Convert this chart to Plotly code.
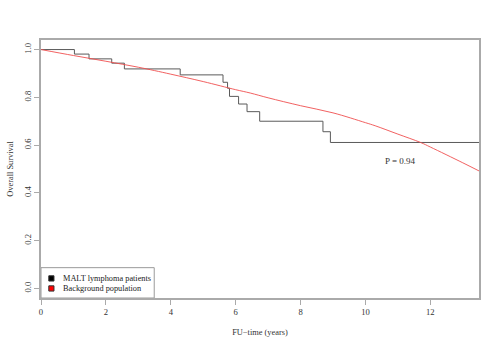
import plotly.graph_objects as go

# Kaplan-Meier steps for MALT lymphoma patients (event times, survival after event)
km_time = [0.0, 1.03, 1.48, 2.18, 2.57, 4.29, 5.61, 5.75, 5.81, 6.09, 6.35, 6.74, 8.69, 8.92, 13.5]
km_surv = [1.0, 0.981, 0.961, 0.943, 0.919, 0.894, 0.863, 0.838, 0.804, 0.772, 0.740, 0.700, 0.656, 0.611, 0.611]

# Expected survival of the background population
bg_time = [0, 1, 2, 3, 3.5, 4, 5, 6, 6.45, 7, 8, 9, 10, 10.3, 11, 11.7, 12, 13, 13.5]
bg_surv = [1.0, 0.975, 0.951, 0.926, 0.912, 0.897, 0.866, 0.832, 0.818, 0.798, 0.765, 0.735, 0.694, 0.681, 0.646, 0.611, 0.592, 0.526, 0.492]

series_names = ["MALT lymphoma patients", "Background population"]
series_colors = ["#000000", "#ff0000"]
p_label = "P = 0.94"
p_pos = (11.08, 0.532)

x_ticks = [0, 2, 4, 6, 8, 10, 12]
y_ticks = [0.0, 0.2, 0.4, 0.6, 0.8, 1.0]

font_family = "Liberation Serif, Times New Roman, serif"

fig = go.Figure()
fig.add_trace(go.Scatter(x=km_time, y=km_surv, mode="lines", line_shape="hv",
                         name=series_names[0],
                         line=dict(color="#5a5a5a", width=1), showlegend=False,
                         hoverinfo="skip"))
fig.add_trace(go.Scatter(x=bg_time, y=bg_surv, mode="lines", line_shape="spline",
                         name=series_names[1],
                         line=dict(color="rgba(240,80,80,0.9)", width=1), showlegend=False,
                         hoverinfo="skip"))

fig.add_annotation(x=p_pos[0], y=p_pos[1], text=p_label, showarrow=False,
                   font=dict(family=font_family, size=9, color="#333333"))

# R-style legend box in the bottom-left corner of the plotting area
fig.add_shape(type="rect", xref="x", yref="y", x0=0, x1=3.49, y0=-0.04, y1=0.087,
              line=dict(color="#9a9a9a", width=1), fillcolor="white", layer="above")
for i, (name, col) in enumerate(zip(series_names, series_colors)):
    yy = 0.042 - i * 0.042
    fig.add_shape(type="rect", xref="x", yref="y",
                  x0=0.24, x1=0.40, y0=yy - 0.011, y1=yy + 0.011,
                  line=dict(color="#333333", width=1), fillcolor=col, layer="above")
    fig.add_annotation(x=0.62, y=yy, xref="x", yref="y", text=name, showarrow=False,
                       xanchor="left", yanchor="middle",
                       font=dict(family=font_family, size=8.3, color="#222222"))

fig.update_layout(
    width=500, height=350,
    margin=dict(l=41, r=21, t=40, b=52),
    paper_bgcolor="white", plot_bgcolor="white",
    font=dict(family=font_family, size=8.6, color="#333333"),
    showlegend=False,
    xaxis=dict(range=[0, 13.5], tickvals=x_ticks, ticktext=[str(v) for v in x_ticks],
               automargin=False,
               showgrid=False, zeroline=False, showline=True, mirror=True,
               linecolor="#aaaaaa", linewidth=1.5, ticks="outside", ticklen=5,
               tickcolor="#aaaaaa",
               title=dict(text="FU\u2212time (years)", standoff=13,
                          font=dict(family=font_family, size=8.4))),
    yaxis=dict(range=[-0.04, 1.04], tickvals=y_ticks, ticktext=[f"{v:.1f}" for v in y_ticks],
               automargin=False,
               tickangle=-90, showgrid=False, zeroline=False, showline=True, mirror=True,
               linecolor="#aaaaaa", linewidth=1.5, ticks="outside", ticklen=5,
               tickcolor="#aaaaaa",
               title=dict(text="Overall Survival", standoff=8,
                          font=dict(family=font_family, size=8.4))),
)

fig.write_html("out.html")
